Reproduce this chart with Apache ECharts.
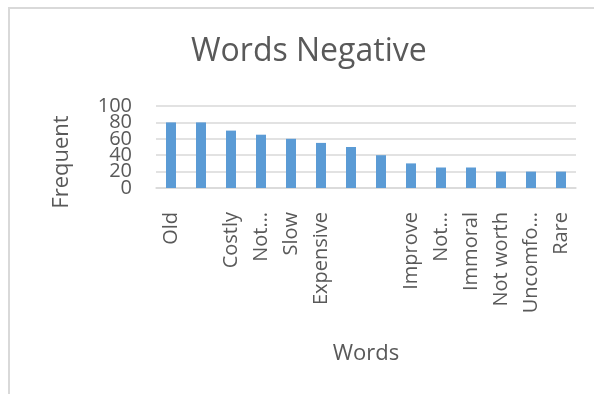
<!DOCTYPE html>
<html>
<head>
<meta charset="utf-8">
<script src="https://cdn.jsdelivr.net/npm/echarts@6/dist/echarts.min.js"></script>
<style>
  html, body { margin: 0; padding: 0; background: #fff; }
  #main { width: 594px; height: 394px; }
</style>
</head>
<body>
<div id="main"></div>
<script>
// words along the x axis (three labels are not shown in the source)
var words = ['Old', '', 'Costly', 'Not\u2026', 'Slow', 'Expensive', '', '', 'Improve', 'Not\u2026', 'Immoral', 'Not worth', 'Uncomfo\u2026', 'Rare'];
var frequent = [80, 80, 70, 65, 60, 55, 50, 40, 30, 25, 25, 20, 20, 20];
var yTicks = [0, 20, 40, 60, 80, 100];

var grey = '#595959';
var font = '"Open Sans", "DejaVu Sans", sans-serif';

var myChart = echarts.init(document.getElementById('main'));

// the tick labels overlap in the source, so split them over two stacked
// left axes (odd / even ticks) to keep ECharts from hiding any of them
function yAxisFor(keepEven, withGrid) {
    return {
        type: 'value',
        position: 'left',
        min: yTicks[0],
        max: yTicks[yTicks.length - 1],
        interval: yTicks[1] - yTicks[0],
        axisLine: { show: false },
        axisTick: { show: false },
        splitLine: { show: withGrid, lineStyle: { color: '#d9d9d9', width: 1.5 } },
        axisLabel: {
            margin: 24,
            showMinLabel: true,
            showMaxLabel: true,
            fontFamily: font,
            fontSize: 20,
            color: grey,
            formatter: function (v) {
                var idx = yTicks.indexOf(v);
                return (idx % 2 === 0) === keepEven ? String(v) : '';
            }
        }
    };
}

var option = {
    animation: false,
    title: {
        text: 'Words Negative',
        left: 186,
        top: 31,
        textStyle: { fontFamily: font, fontSize: 32, fontWeight: 'normal', color: grey }
    },
    graphic: [
        {
            type: 'rect',
            shape: { x: 9, y: 8, width: 700, height: 500 },
            style: { fill: null, stroke: '#d9d9d9', lineWidth: 2 },
            silent: true
        },
        {
            type: 'text',
            x: 62,
            y: 162,
            rotation: Math.PI / 2,
            style: {
                text: 'Frequent',
                fontFamily: font,
                fontSize: 22,
                fill: grey,
                align: 'center',
                verticalAlign: 'middle'
            }
        }
    ],
    grid: { left: 156, right: 18, top: 106, bottom: 206 },
    xAxis: {
        type: 'category',
        data: words,
        name: 'Words',
        nameLocation: 'middle',
        nameGap: 155,
        nameTextStyle: { fontFamily: font, fontSize: 22, color: grey },
        axisTick: { show: false },
        axisLine: { lineStyle: { color: '#d9d9d9', width: 1.5 } },
        axisLabel: {
            interval: 0,
            rotate: 90,
            margin: 24,
            fontFamily: font,
            fontSize: 20,
            color: grey
        }
    },
    yAxis: [yAxisFor(true, true), yAxisFor(false, false)],
    series: [{
        name: 'Frequent',
        type: 'bar',
        data: frequent,
        barWidth: 10,
        itemStyle: { color: '#5b9bd5' }
    }]
};

myChart.setOption(option);
</script>
</body>
</html>
